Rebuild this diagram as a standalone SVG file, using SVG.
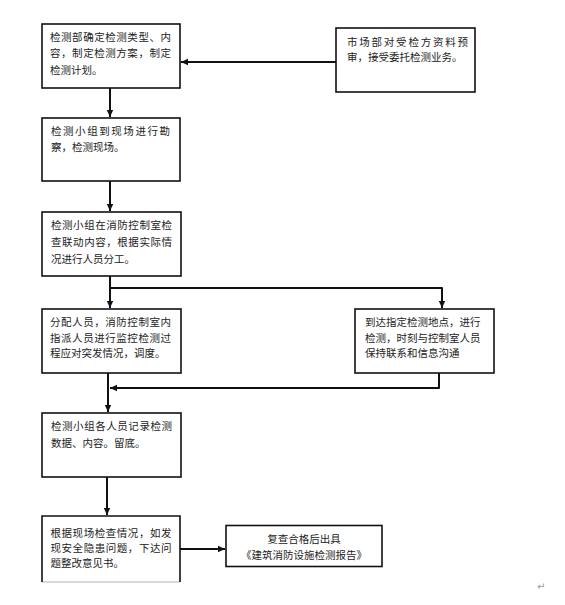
<svg xmlns="http://www.w3.org/2000/svg" width="565" height="605" viewBox="0 0 565 605">
<style>
.box{fill:#fff;stroke:#111;stroke-width:1.6}
.t{font-family:"Noto Sans CJK SC","Noto Sans",sans-serif;font-size:10.5px;fill:#222}
.c{fill:none;stroke:#111;stroke-width:2;stroke-linejoin:round}
</style>
<defs>
<marker id="ah" markerUnits="userSpaceOnUse" markerWidth="8" markerHeight="8" refX="7" refY="4" orient="auto">
<path d="M0,0.8 L7,4 L0,7.2 Z" fill="#111"/>
</marker>
</defs>
<rect width="565" height="605" fill="#fff"/>
<g id="connectors">
<line class="c" x1="336" y1="62" x2="181" y2="62" marker-end="url(#ah)"/>
<line class="c" x1="110" y1="88" x2="110" y2="117" marker-end="url(#ah)"/>
<line class="c" x1="110" y1="181" x2="110" y2="211" marker-end="url(#ah)"/>
<line class="c" x1="110" y1="276" x2="110" y2="308" marker-end="url(#ah)"/>
<path class="c" d="M110,288 H442 V308" marker-end="url(#ah)"/>
<path class="c" d="M439,373 V388 H110" marker-end="url(#ah)"/>
<line class="c" x1="108" y1="373" x2="108" y2="412" marker-end="url(#ah)"/>
<line class="c" x1="107" y1="477" x2="107" y2="515" marker-end="url(#ah)"/>
<line class="c" x1="180" y1="549" x2="225" y2="549" marker-end="url(#ah)"/>
</g>
<g id="n1">
<rect class="box" x="42" y="24" width="138" height="64"/>
<text class="t" x="50" y="40.5" textLength="121" lengthAdjust="spacing">检测部确定检测类型、内</text>
<text class="t" x="50" y="57" textLength="121" lengthAdjust="spacing">容，制定检测方案，制定</text>
<text class="t" x="50" y="74">检测计划。</text>
</g>
<g id="n2">
<rect class="box" x="336" y="28" width="139" height="64"/>
<text class="t" x="347" y="45.5" textLength="121" lengthAdjust="spacing">市场部对受检方资料预</text>
<text class="t" x="347" y="61">审，接受委托检测业务。</text>
</g>
<g id="n3">
<rect class="box" x="42" y="118" width="138" height="63"/>
<text class="t" x="51" y="135" textLength="119" lengthAdjust="spacing">检测小组到现场进行勘</text>
<text class="t" x="51" y="150.5">察，检测现场。</text>
</g>
<g id="n4">
<rect class="box" x="42" y="212" width="139" height="64"/>
<text class="t" x="51" y="229" textLength="121" lengthAdjust="spacing">检测小组在消防控制室检</text>
<text class="t" x="51" y="246" textLength="121" lengthAdjust="spacing">查联动内容，根据实际情</text>
<text class="t" x="51" y="263">况进行人员分工。</text>
</g>
<g id="n5">
<rect class="box" x="42" y="309" width="139" height="64"/>
<text class="t" x="50" y="326" textLength="121" lengthAdjust="spacing">分配人员，消防控制室内</text>
<text class="t" x="50" y="341.5" textLength="121" lengthAdjust="spacing">指派人员进行监控检测过</text>
<text class="t" x="50" y="357">程应对突发情况，调度。</text>
</g>
<g id="n6">
<rect class="box" x="355" y="309" width="139" height="64"/>
<text class="t" x="365" y="326">到达指定检测地点，进行</text>
<text class="t" x="365" y="341.5">检测，时刻与控制室人员</text>
<text class="t" x="365" y="357">保持联系和信息沟通</text>
</g>
<g id="n7">
<rect class="box" x="42" y="413" width="139" height="64"/>
<text class="t" x="51" y="430" textLength="121" lengthAdjust="spacing">检测小组各人员记录检测</text>
<text class="t" x="51" y="447">数据、内容。留底。</text>
</g>
<g id="n8">
<path d="M42,582 H180" fill="none" stroke="#ccc" stroke-width="1.6"/>
<path d="M42,582 V516 H180 V582" fill="none" stroke="#111" stroke-width="1.6"/>
<text class="t" x="50.5" y="536.5" textLength="121" lengthAdjust="spacing">根据现场检查情况，如发</text>
<text class="t" x="50.5" y="552" textLength="121" lengthAdjust="spacing">现安全隐患问题，下达问</text>
<text class="t" x="50.5" y="567">题整改意见书。</text>
</g>
<g id="n9">
<rect class="box" x="226" y="525.5" width="156" height="41"/>
<text class="t" x="304" y="543" text-anchor="middle">复查合格后出具</text>
<text class="t" x="304" y="558.5" text-anchor="middle">《建筑消防设施检测报告》</text>
</g>
<text x="537" y="590" font-family="DejaVu Sans,sans-serif" font-size="10" fill="#999">↵</text>
</svg>
